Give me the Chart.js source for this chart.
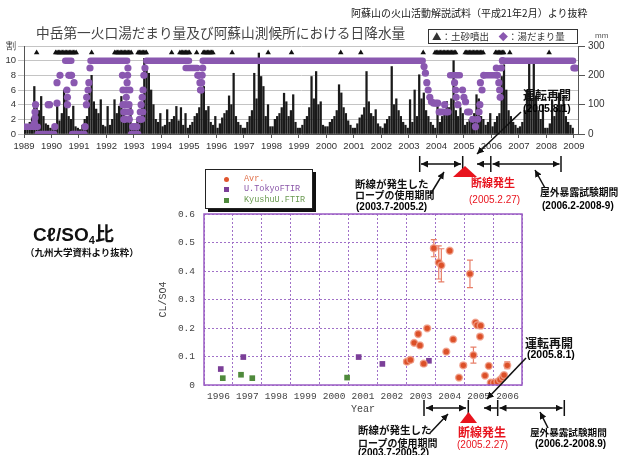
<!DOCTYPE html>
<html>
<head>
<meta charset="utf-8">
<script src="https://cdn.jsdelivr.net/npm/chart.js@4.4.0/dist/chart.umd.min.js"></script>
<style>
  body { margin: 0; width: 629px; height: 455px; overflow: hidden; position: relative; background: #fff;
         font-family: "Noto Sans CJK JP", sans-serif; }
  canvas { position: absolute; left: 0; top: 0; }
  svg { position: absolute; left: 0; top: 0; }
  .t { position: absolute; white-space: nowrap; line-height: 1; }
  .b { font-weight: bold; color: #111; }
  .num { font-family: "Liberation Sans", sans-serif; font-weight: bold; }
  .red { color: #e8141e; }
  #lg { position: absolute; left: 205px; top: 169px; width: 106px; height: 38px; border: 1px solid #222;
        background: #fff; box-shadow: 3px 3px 0 #111; font-family: "Liberation Mono", monospace; font-size: 8.5px; }
  #lg span { position: absolute; line-height: 1; }
  .mk { width: 5px; height: 5px; }
</style>
</head>
<body>
<canvas id="top" width="629" height="455" style="width:629px;height:455px"></canvas>
<canvas id="cl" width="629" height="455" style="width:629px;height:455px"></canvas>

<div class="t" style="left:351px;top:8px;font-size:10px;color:#222">阿蘇山の火山活動解説試料（平成21年2月）より抜粋</div>
<div class="t" style="left:36px;top:26px;font-size:13.7px;color:#444">中岳第一火口湯だまり量及び阿蘇山測候所における日降水量</div>
<div class="t" style="left:428px;top:29px;width:145px;height:13px;border:1px solid #333;font-size:9.5px;color:#333;padding-left:3px;line-height:13px">▲：土砂噴出　<span style="color:#8a58b0">◆</span>：湯だまり量</div>
<div class="t" style="left:595px;top:32px;font-size:8px;color:#555;font-family:'Liberation Sans'">mm</div>

<div id="lg">
  <span class="mk" style="left:18px;top:7px;background:#e0552e;border-radius:50%"></span>
  <span style="left:38px;top:5px;color:#e0704a">Avr.</span>
  <span class="mk" style="left:18px;top:17px;background:#7b3f98"></span>
  <span style="left:38px;top:15px;color:#8a56a8">U.TokyoFTIR</span>
  <span class="mk" style="left:18px;top:28px;background:#4f8a3c"></span>
  <span style="left:38px;top:26px;color:#6a9a50">KyushuU.FTIR</span>
</div>

<div class="t b" style="left:523px;top:89px;font-size:12px">運転再開</div>
<div class="t num" style="left:523px;top:103px;font-size:10.5px">(2005.8.1)</div>
<div class="t b" style="left:355px;top:179px;font-size:10.5px">断線が発生した</div>
<div class="t b" style="left:355px;top:190px;font-size:10px">ロープの使用期間</div>
<div class="t num" style="left:356px;top:202px;font-size:10px">(2003.7-2005.2)</div>
<div class="t b red" style="left:471px;top:177px;font-size:11px;color:#e8141e">断線発生</div>
<div class="t num red" style="left:469px;top:195px;font-size:10px;font-weight:normal">(2005.2.27)</div>
<div class="t b" style="left:540px;top:188px;font-size:9.8px">屋外暴露試験期間</div>
<div class="t num" style="left:542px;top:201px;font-size:10px">(2006.2-2008-9)</div>

<div class="t b" style="left:525px;top:337px;font-size:12px">運転再開</div>
<div class="t num" style="left:527px;top:349px;font-size:10.5px">(2005.8.1)</div>
<div class="t b" style="left:358px;top:425px;font-size:10.5px">断線が発生した</div>
<div class="t b" style="left:358px;top:438px;font-size:10px">ロープの使用期間</div>
<div class="t num" style="left:358px;top:448px;font-size:10px">(2003.7-2005.2)</div>
<div class="t b red" style="left:458px;top:426px;font-size:12px;color:#e8141e">断線発生</div>
<div class="t num red" style="left:457px;top:440px;font-size:10px;font-weight:normal">(2005.2.27)</div>
<div class="t b" style="left:530px;top:428px;font-size:9.6px">屋外暴露試験期間</div>
<div class="t num" style="left:535px;top:439px;font-size:10px">(2006.2-2008.9)</div>

<div class="t" style="left:33px;top:223px;font-size:19px;font-weight:bold;font-family:'Liberation Sans','DejaVu Sans',sans-serif;color:#111">Cℓ/SO<sub style="font-size:11px;vertical-align:-3px">4</sub><span style="font-family:'Noto Sans CJK JP'">比</span></div>
<div class="t b" style="left:25px;top:248px;font-size:9.5px">（九州大学資料より抜粋）</div>

<svg width="629" height="455">
  <defs>
    <marker id="ah" viewBox="0 0 8 8" refX="8" refY="4" markerWidth="7" markerHeight="7" markerUnits="userSpaceOnUse" orient="auto-start-reverse">
      <path d="M0,0 L8,4 L0,8 z" fill="#111"/>
    </marker>
  </defs>
  <g stroke="#111" stroke-width="1.5" fill="none">
    <!-- upper timeline -->
    <line x1="419.7" y1="156" x2="419.7" y2="172"/>
    <line x1="462.7" y1="156" x2="462.7" y2="172"/>
    <line x1="490.8" y1="156" x2="490.8" y2="172"/>
    <line x1="561" y1="156" x2="561" y2="172"/>
    <line x1="421" y1="164" x2="461" y2="164" marker-start="url(#ah)" marker-end="url(#ah)"/>
    <line x1="490.8" y1="164" x2="477" y2="164" marker-end="url(#ah)"/>
    <line x1="492.5" y1="164" x2="559.5" y2="164" marker-start="url(#ah)" marker-end="url(#ah)"/>
    <line x1="430" y1="195" x2="444" y2="172" marker-end="url(#ah)"/>
    <line x1="545" y1="188" x2="535" y2="170" marker-end="url(#ah)"/>
    <line x1="521" y1="112" x2="477" y2="154" marker-end="url(#ah)"/>
    <!-- lower timeline -->
    <line x1="424" y1="400" x2="424" y2="416"/>
    <line x1="468.3" y1="400" x2="468.3" y2="416"/>
    <line x1="497.7" y1="400" x2="497.7" y2="416"/>
    <line x1="564.3" y1="400" x2="564.3" y2="416"/>
    <line x1="426" y1="408" x2="466" y2="408" marker-start="url(#ah)" marker-end="url(#ah)"/>
    <line x1="497.7" y1="408" x2="484" y2="408" marker-end="url(#ah)"/>
    <line x1="499.5" y1="408" x2="562.5" y2="408" marker-start="url(#ah)" marker-end="url(#ah)"/>
    <line x1="430" y1="433" x2="448" y2="414" marker-end="url(#ah)"/>
    <line x1="548" y1="428" x2="540" y2="412" marker-end="url(#ah)"/>
    <line x1="526" y1="358" x2="487" y2="399" marker-end="url(#ah)"/>
  </g>
  <polygon points="465,166 453,177 477,177" fill="#e8141e"/>
  <polygon points="468.5,412 460,423 477,423" fill="#e8141e"/>
</svg>

<script>
// ---------- upper chart: pool level (割) and daily rainfall (mm) ----------
const rainStartYear = 1989;
// monthly peak of daily rainfall, one row per year (Jan..Dec)
const rainMm = [
  [15, 25, 40, 55, 162, 95, 80, 128, 60, 35, 30, 20],     // 1989
  [20, 30, 94, 45, 70, 150, 130, 60, 50, 95, 25, 20],     // 1990
  [15, 30, 50, 60, 150, 200, 110, 85, 70, 117, 30, 25],   // 1991
  [94, 30, 50, 117, 70, 95, 128, 80, 60, 40, 94, 20],     // 1992
  [30, 45, 60, 90, 258, 230, 207, 150, 100, 50, 40, 70],  // 1993
  [25, 30, 83, 40, 50, 60, 94, 45, 90, 30, 70, 20],       // 1994
  [30, 40, 60, 70, 90, 139, 162, 80, 94, 40, 30, 60],     // 1995
  [20, 35, 55, 70, 80, 130, 100, 207, 60, 40, 30, 20],    // 1996
  [20, 40, 60, 80, 207, 120, 276, 196, 162, 60, 100, 25], // 1997
  [25, 50, 60, 70, 90, 139, 110, 60, 80, 134, 40, 20],    // 1998
  [20, 30, 50, 60, 90, 196, 120, 213, 100, 110, 30, 25],  // 1999
  [25, 40, 50, 60, 80, 168, 140, 90, 70, 45, 30, 20],     // 2000
  [20, 35, 55, 65, 90, 213, 110, 70, 60, 83, 35, 25],     // 2001
  [20, 35, 50, 60, 230, 100, 120, 80, 60, 40, 30, 20],    // 2002
  [117, 40, 150, 60, 202, 120, 140, 80, 60, 40, 30, 20],  // 2003
  [94, 40, 60, 70, 111, 90, 120, 250, 80, 60, 90, 70],    // 2004
  [30, 40, 50, 60, 70, 134, 120, 60, 50, 30, 40, 70],     // 2005
  [25, 40, 60, 70, 196, 236, 150, 80, 60, 40, 30, 20],    // 2006
  [25, 40, 80, 150, 241, 120, 241, 130, 80, 50, 100, 20], // 2007
  [20, 35, 117, 60, 90, 140, 100, 130, 60, 40, 30, 20]    // 2008
];

// long stretches where the pool level stayed put
const poolRunStart = [1989.0, 1989.5, 1990.5, 1990.75, 1991.42, 1992.9, 1993.45, 1994.88, 1995.5, 2004.5, 2005.8, 2006.42];
const poolRunEnd   = [1989.5, 1990.1, 1990.72, 1991.2, 1992.75, 1993.15, 1995.0, 1995.3, 2003.5, 2004.85, 2006.13, 2008.97];
const poolRunLevel = [1, 0, 10, 0, 10, 0, 10, 9, 10, 8, 8, 10];

// single observations
const poolDotYear = [
  1989.38, 1989.4, 1989.4, 1989.42, 1989.88, 1989.93,
  1990.12, 1990.2, 1990.2, 1990.31, 1990.56, 1990.58, 1990.58, 1990.63, 1990.7, 1990.73, 1990.82,
  1991.22, 1991.27, 1991.28, 1991.33, 1991.36, 1991.4,
  1992.58, 1992.6, 1992.6, 1992.63, 1992.63, 1992.68, 1992.7, 1992.7, 1992.72, 1992.73, 1992.75, 1992.77,
  1992.78, 1992.82, 1992.83, 1992.86, 1992.8, 1992.85,
  1992.95, 1993.02, 1993.1, 1993.2, 1993.23, 1993.26, 1993.3, 1993.33, 1993.36, 1993.4, 1993.28, 1993.32,
  1995.32, 1995.37, 1995.4, 1995.42, 1995.44, 1995.46, 1995.48, 1995.5,
  2003.55, 2003.6, 2003.65, 2003.7, 2003.76, 2003.82, 2003.9, 2003.98, 2004.05, 2004.1, 2004.17, 2004.24,
  2004.3, 2004.36, 2004.42, 2004.66, 2004.7, 2004.72, 2004.78,
  2004.95, 2005.0, 2005.06, 2005.13, 2005.2, 2005.32, 2005.42, 2005.5, 2005.55, 2005.58, 2005.6, 2005.66, 2005.72,
  2006.18, 2006.22, 2006.27, 2006.3, 2006.32, 2006.36, 2006.4,
  2009.0, 2009.06
];
const poolDotLevel = [
  1.5, 2.2, 3, 4, 4, 4,
  1, 4.2, 7, 8, 6, 5, 4, 8, 8, 8, 7,
  1, 4, 5, 6, 7, 9,
  8, 6, 4, 3, 2, 2, 3, 4, 5, 6, 7, 8,
  9, 4, 2, 3, 3, 6,
  1, 1, 1, 2, 3, 4, 5, 6, 8, 9, 2, 3,
  8, 8, 7, 6, 6, 7, 8, 9,
  9.2, 8.3, 7, 6, 5, 4.4, 4.2, 4.2, 4.2, 3, 3, 3,
  4, 3, 3, 7, 6, 5, 4,
  6, 5, 4.4, 3, 3, 2, 1, 2, 3, 4, 7, 6, 8,
  9, 8, 7, 6, 5, 9, 10,
  9, 9
];

// 土砂噴出 events
const ejectaYear = [
  1989.46,
  1990.15, 1990.2, 1990.25, 1990.3, 1990.35, 1990.4, 1990.45, 1990.5, 1990.55, 1990.6, 1990.65, 1990.7, 1990.75, 1990.8, 1990.85, 1990.9,
  1991.46,
  1992.3, 1992.35, 1992.4, 1992.45, 1992.5, 1992.55, 1992.6, 1992.65, 1992.7, 1992.75, 1992.8, 1992.85, 1992.9,
  1993.15, 1993.2, 1993.25, 1993.3, 1993.35, 1993.4, 1993.45,
  1994.37,
  1994.67, 1994.72, 1994.77, 1994.82, 1994.87, 1994.92, 1994.97, 1995.02,
  1995.28,
  1995.52, 1995.57, 1995.62, 1995.67, 1995.72, 1995.77, 1995.82, 1995.87,
  1996.57, 1997.88, 1998.73, 2000.52, 2001.25, 2003.52,
  2003.95, 2004.0, 2004.05, 2004.1, 2004.15, 2004.2, 2004.25, 2004.3, 2004.35, 2004.4, 2004.45, 2004.5, 2004.55, 2004.6, 2004.65, 2004.7,
  2005.05, 2005.1, 2005.15, 2005.2, 2005.25, 2005.3, 2005.35, 2005.4, 2005.45, 2005.5, 2005.55, 2005.6, 2005.65, 2005.7,
  2006.15, 2006.2, 2006.25, 2006.3, 2006.35, 2006.4, 2006.45,
  2006.67, 2008.1
];
const ejectaRow = 11.1;

const topYearTicks = [1989, 1990, 1991, 1992, 1993, 1994, 1995, 1996, 1997, 1998, 1999,
                      2000, 2001, 2002, 2003, 2004, 2005, 2006, 2007, 2008, 2009];

const purple = "#8a58b0";

let rainData = [];
rainMm.forEach(function (row, yi) {
  row.forEach(function (v, m) {
    rainData.push({ x: rainStartYear + yi + (m + 0.5) / 12, y: v });
  });
});

let runData = [];
for (let i = 0; i < poolRunStart.length; i++) {
  runData.push({ x: poolRunStart[i], y: poolRunLevel[i] });
  runData.push({ x: poolRunEnd[i], y: poolRunLevel[i] });
  runData.push({ x: poolRunEnd[i], y: null });
}
let dotData = poolDotYear.map(function (y, i) { return { x: y, y: poolDotLevel[i] }; });
let ejectaData = ejectaYear.map(function (y) { return { x: y, y: ejectaRow }; });

const tickFont = { family: "Liberation Sans", size: 9.5 };

new Chart(document.getElementById("top"), {
  type: "bar",
  data: {
    datasets: [
      { type: "scatter", data: ejectaData, yAxisID: "y", pointStyle: "triangle", pointRadius: 3.2,
        backgroundColor: "#111", borderWidth: 0, order: 0 },
      { type: "scatter", data: dotData, yAxisID: "y", pointStyle: "circle", pointRadius: 3.6,
        backgroundColor: purple, borderWidth: 0, order: 1 },
      { type: "line", data: runData, yAxisID: "y", borderColor: purple, borderWidth: 6.5,
        pointRadius: 0, spanGaps: false, borderCapStyle: "round", order: 2 },
      { type: "bar", data: rainData, yAxisID: "y2", backgroundColor: "#1a1a1a",
        barThickness: 1.6, order: 3 }
    ]
  },
  options: {
    responsive: false,
    animation: false,
    devicePixelRatio: 1,
    layout: { padding: { left: 0, right: 0, top: 46, bottom: 0 } },
    plugins: { legend: { display: false }, tooltip: { enabled: false } },
    scales: {
      x: {
        type: "linear", position: "bottom", min: 1989, max: 2009.15, offset: false,
        afterBuildTicks: function (s) { s.ticks = topYearTicks.map(function (v) { return { value: v }; }); },
        afterFit: function (s) { s.height = 321; },
        ticks: { font: tickFont, color: "#333", padding: 3, maxRotation: 0, autoSkip: false,
                 callback: function (v) { return String(v); } },
        grid: { drawOnChartArea: false, tickLength: 4, color: "#555", offset: false },
        border: { color: "#555" }
      },
      y: {
        position: "left", min: 0, max: 12,
        afterFit: function (s) { s.width = 24; },
        ticks: { stepSize: 2, font: tickFont, color: "#333", padding: 2,
                 callback: function (v) { return v === 12 ? "割" : v; } },
        grid: { color: "#c4c4c4", tickLength: 6 },
        border: { color: "#555" }
      },
      y2: {
        position: "right", min: 0, max: 300,
        afterFit: function (s) { s.width = 51; },
        ticks: { stepSize: 100, font: { family: "Liberation Sans", size: 10 }, color: "#333", padding: 3 },
        grid: { drawOnChartArea: false, tickLength: 7, color: "#555" },
        border: { color: "#555" }
      }
    }
  }
});

// ---------- lower chart: Cl/SO4 ratio ----------
const avrYear = [2003.02, 2003.14, 2003.27, 2003.41, 2003.47, 2003.60, 2003.72, 2003.95, 2004.12, 2004.21,
                 2004.38, 2004.50, 2004.62, 2004.82, 2004.97, 2005.20, 2005.32, 2005.39, 2005.45, 2005.55,
                 2005.57, 2005.72, 2005.85, 2005.92, 2006.03, 2006.15, 2006.24, 2006.33, 2006.38, 2006.49];
const avrRatio = [0.082, 0.088, 0.148, 0.179, 0.139, 0.075, 0.199, 0.48, 0.43, 0.42,
                  0.117, 0.471, 0.16, 0.026, 0.069, 0.39, 0.105, 0.219, 0.21, 0.17,
                  0.208, 0.033, 0.067, 0.008, 0.008, 0.011, 0.018, 0.027, 0.035, 0.069];
const avrErr   = [0, 0, 0, 0, 0, 0, 0, 0.03, 0.058, 0.058,
                  0, 0, 0, 0, 0, 0.048, 0.028, 0, 0, 0,
                  0, 0, 0, 0, 0, 0, 0, 0, 0, 0.012];
const avrErrYr = [0.1, 0.1, 0, 0.08, 0, 0.1, 0, 0.1, 0, 0,
                  0, 0, 0, 0, 0.1, 0.08, 0, 0, 0, 0,
                  0, 0, 0, 0, 0, 0, 0, 0, 0, 0.08];
const tokyoYear  = [1996.58, 1997.36, 2001.35, 2002.17, 2003.78];
const tokyoRatio = [0.056, 0.098, 0.098, 0.074, 0.085];
const kyushuYear  = [1996.65, 1997.28, 1997.67, 2000.95];
const kyushuRatio = [0.024, 0.036, 0.024, 0.026];
const clYearLabels = [1996, 1997, 1998, 1999, 2000, 2001, 2002, 2003, 2004, 2005, 2006];

const gridPurple = "#a070c8";
const monoFont = { family: "Liberation Mono", size: 9.5 };

const errorBars = {
  id: "errorBars",
  beforeDatasetsDraw: function (chart) {
    const xs = chart.scales.x, ys = chart.scales.y, ctx = chart.ctx;
    ctx.save();
    ctx.strokeStyle = "#e8806a";
    ctx.lineWidth = 1.2;
    avrYear.forEach(function (yr, i) {
      const px = xs.getPixelForValue(yr), py = ys.getPixelForValue(avrRatio[i]);
      if (avrErr[i] > 0) {
        const t = ys.getPixelForValue(avrRatio[i] + avrErr[i]), b = ys.getPixelForValue(avrRatio[i] - avrErr[i]);
        ctx.beginPath();
        ctx.moveTo(px, t); ctx.lineTo(px, b);
        ctx.moveTo(px - 3, t); ctx.lineTo(px + 3, t);
        ctx.moveTo(px - 3, b); ctx.lineTo(px + 3, b);
        ctx.stroke();
      }
      if (avrErrYr[i] > 0) {
        const l = xs.getPixelForValue(yr - avrErrYr[i]), r = xs.getPixelForValue(yr + avrErrYr[i]);
        ctx.beginPath();
        ctx.moveTo(l, py); ctx.lineTo(r, py);
        ctx.moveTo(l, py - 2.5); ctx.lineTo(l, py + 2.5);
        ctx.moveTo(r, py - 2.5); ctx.lineTo(r, py + 2.5);
        ctx.stroke();
      }
    });
    ctx.restore();
  },
  afterDraw: function (chart) {
    const a = chart.chartArea, ctx = chart.ctx;
    ctx.save();
    ctx.strokeStyle = "#9a5cc4";
    ctx.lineWidth = 1.5;
    ctx.strokeRect(a.left, a.top, a.right - a.left, a.bottom - a.top);
    ctx.restore();
  }
};

new Chart(document.getElementById("cl"), {
  type: "scatter",
  data: {
    datasets: [
      { label: "Avr.", data: avrYear.map(function (y, i) { return { x: y, y: avrRatio[i] }; }),
        pointStyle: "circle", pointRadius: 3.4, backgroundColor: "#dc5028",
        borderColor: "rgba(240,160,140,0.8)", borderWidth: 1.5 },
      { label: "U.TokyoFTIR", data: tokyoYear.map(function (y, i) { return { x: y, y: tokyoRatio[i] }; }),
        pointStyle: "rect", pointRadius: 4, backgroundColor: "#7b3f98", borderWidth: 0 },
      { label: "KyushuU.FTIR", data: kyushuYear.map(function (y, i) { return { x: y, y: kyushuRatio[i] }; }),
        pointStyle: "rect", pointRadius: 4, backgroundColor: "#4f8a3c", borderWidth: 0 }
    ]
  },
  plugins: [errorBars],
  options: {
    responsive: false,
    animation: false,
    devicePixelRatio: 1,
    layout: { padding: { left: 157, right: 107, top: 214, bottom: 40 } },
    plugins: { legend: { display: false }, tooltip: { enabled: false } },
    scales: {
      x: {
        type: "linear", position: "bottom", min: 1996, max: 2007,
        afterBuildTicks: function (s) { s.ticks = clYearLabels.map(function (v) { return { value: v + 0.5 }; }); },
        afterFit: function (s) { s.height = 30; },
        ticks: { font: monoFont, color: "#444", padding: 6, maxRotation: 0, autoSkip: false,
                 callback: function (v) { return String(Math.floor(v)); } },
        grid: { display: false, drawTicks: false },
        border: { display: false },
        title: { display: true, text: "Year", font: { family: "Liberation Mono", size: 10 }, color: "#444",
                 padding: 0 }
      },
      xg: {
        type: "linear", position: "top", min: 1996, max: 2007,
        afterFit: function (s) { s.height = 0; },
        ticks: { display: false, stepSize: 1 },
        grid: { color: gridPurple, drawTicks: false },
        border: { display: false, dash: [2, 2] }
      },
      y: {
        position: "left", min: 0, max: 0.6,
        afterFit: function (s) { s.width = 47; },
        ticks: { stepSize: 0.1, font: monoFont, color: "#444", padding: 9,
                 callback: function (v) { return v === 0 ? "0" : v.toFixed(1); } },
        grid: { color: gridPurple, drawTicks: false },
        border: { display: false, dash: [2, 2] },
        title: { display: true, text: "CL/SO4", font: { family: "Liberation Mono", size: 10 }, color: "#444",
                 padding: 0 }
      }
    }
  }
});
</script>
</body>
</html>
